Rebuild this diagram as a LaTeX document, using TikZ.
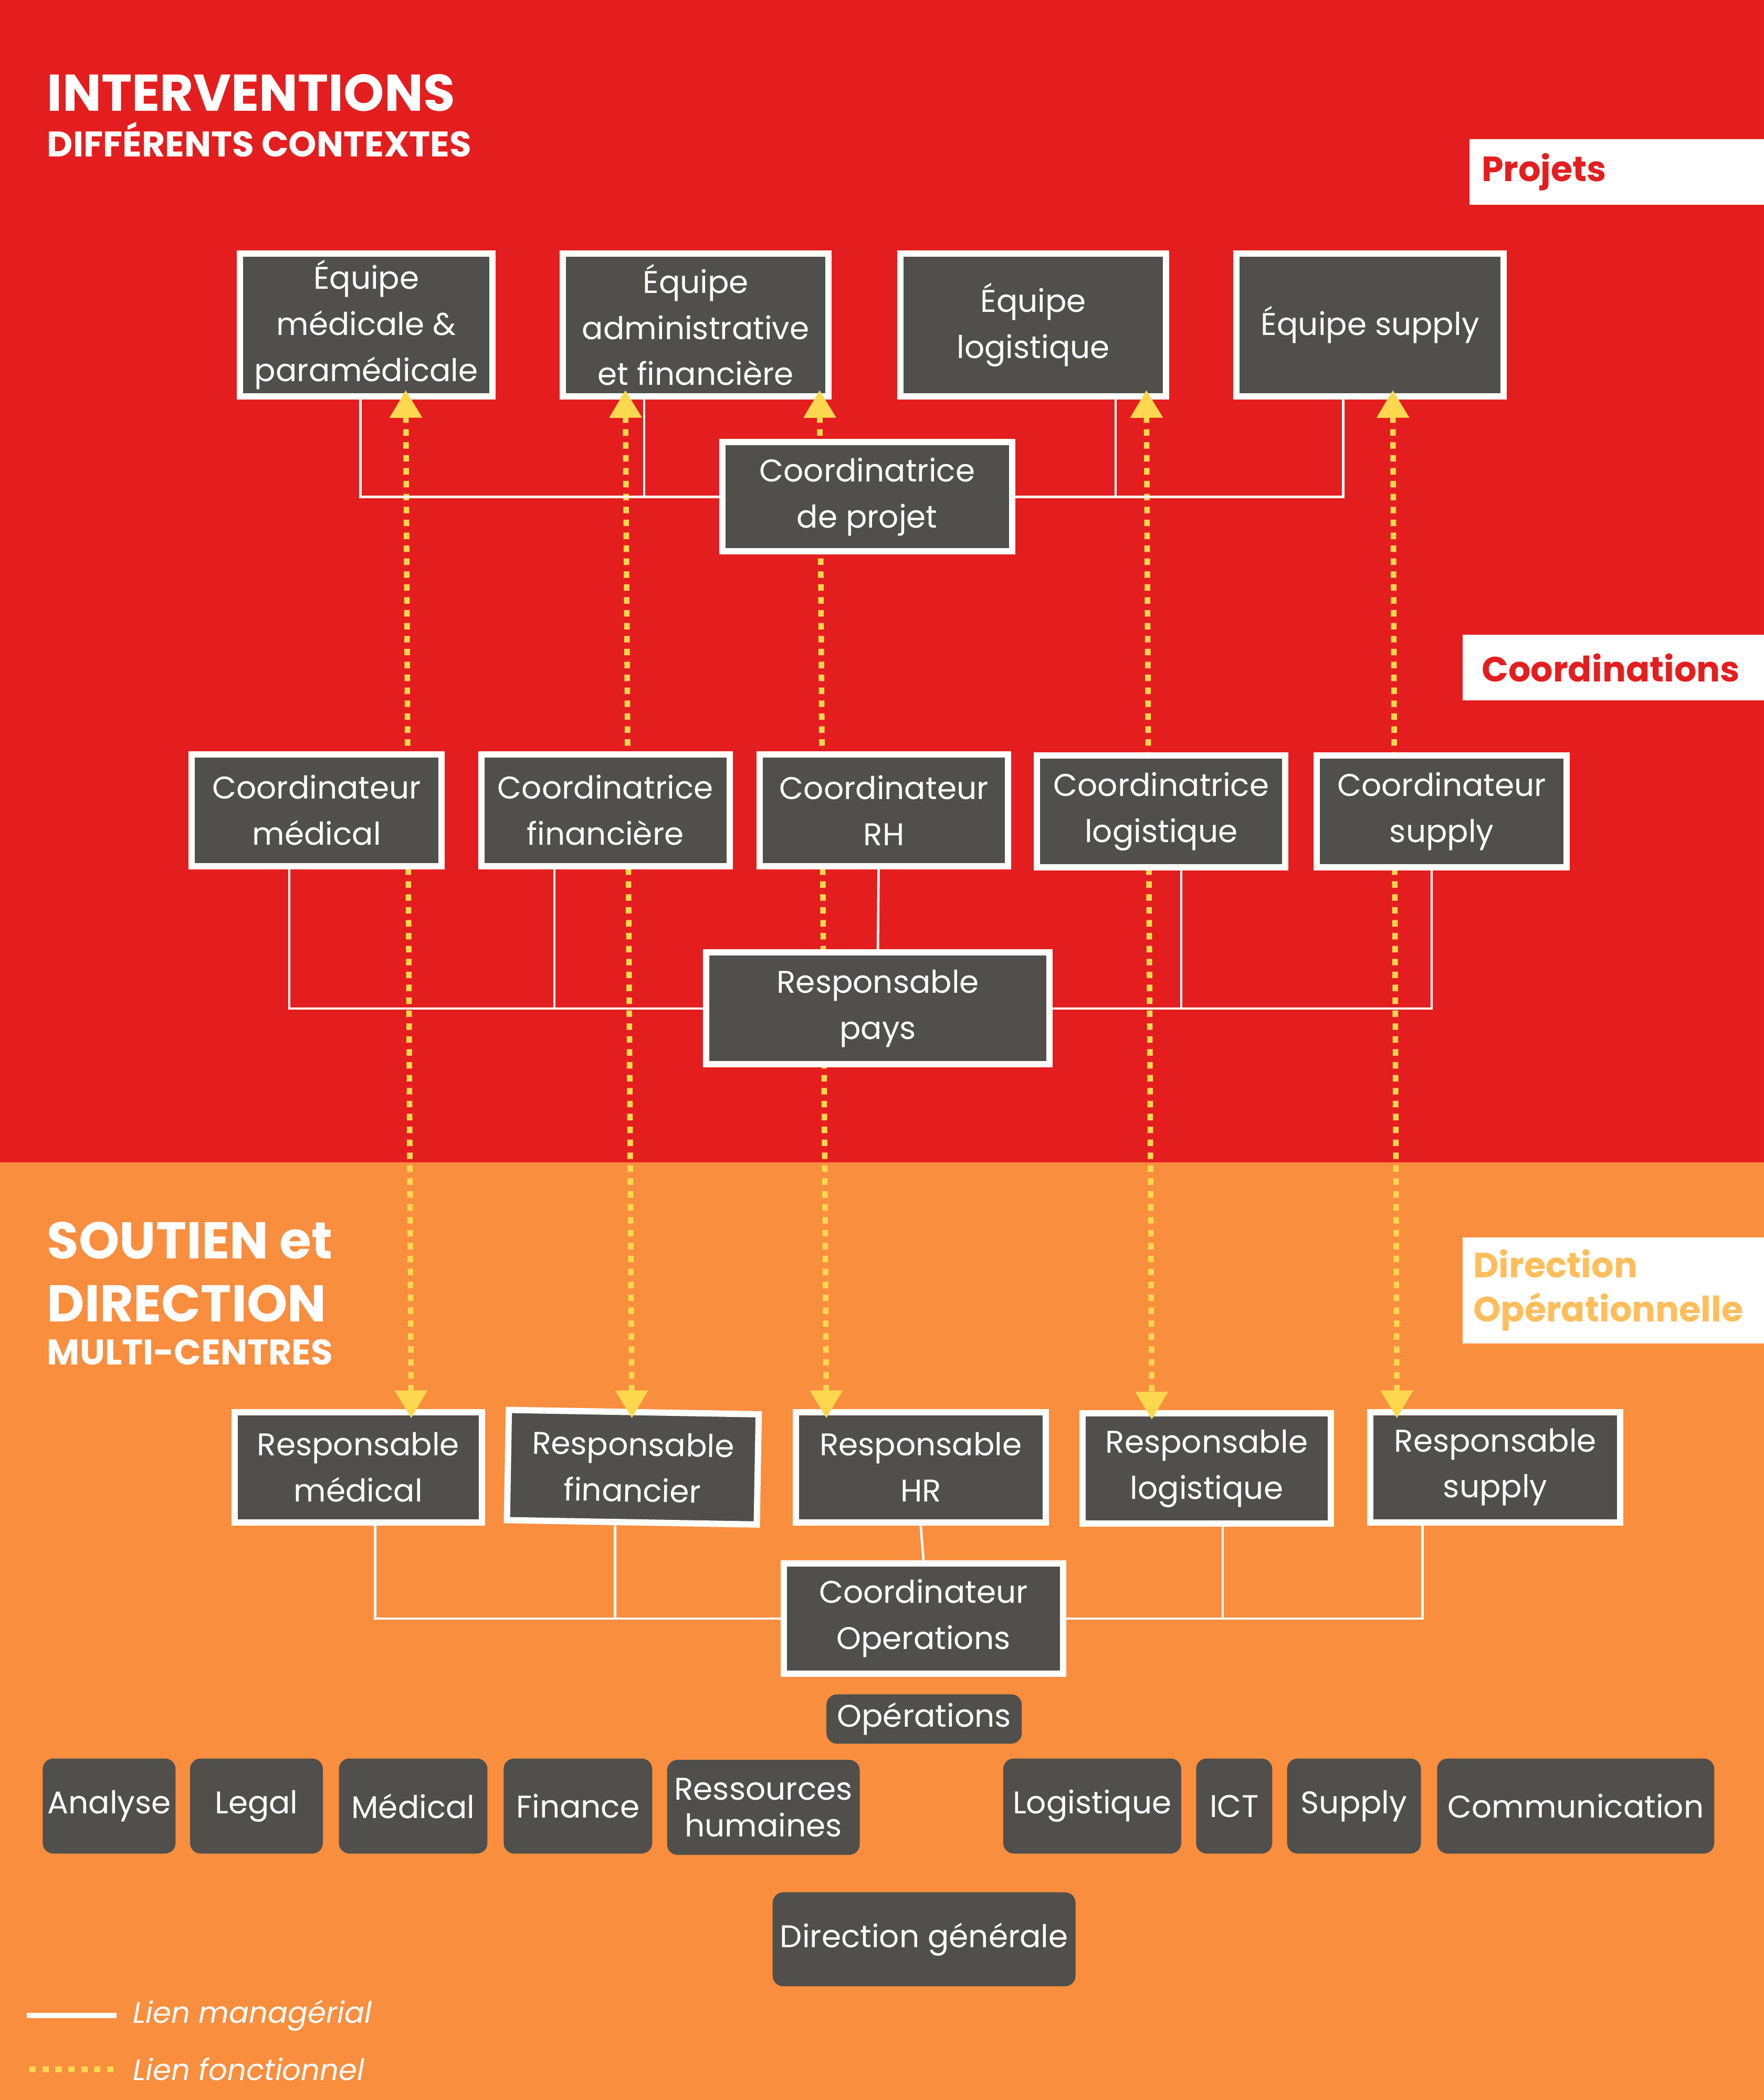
\documentclass[tikz,border=0pt]{standalone}
\usepackage{fontspec}
\setmainfont{Poppins}
\usepackage{tikz}
\usetikzlibrary{arrows.meta,positioning,calc}
\definecolor{redbg}{HTML}{E41E1F}
\definecolor{orangebg}{HTML}{F98E3F}
\definecolor{boxgray}{HTML}{504F4C}
\definecolor{linkyellow}{HTML}{FDD84E}
\definecolor{dirop}{HTML}{FFBE5C}
\tikzset{
  role/.style={draw=white, line width=3.4pt, fill=boxgray, text=white, align=center, inner sep=2pt,
    font=\fontsize{17}{25}\selectfont},
  unit/.style={fill=boxgray, rounded corners=0.2cm, text=white, align=center, inner sep=1pt,
    font=\fontsize{17}{20}\selectfont},
  level/.style={fill=white, anchor=west, align=left, text=redbg, font=\bfseries\fontsize{19}{24}\selectfont},
  title/.style={anchor=base west, inner sep=0pt, text=white, font=\bfseries\fontsize{28}{30}\selectfont},
  subtitle/.style={title, font=\bfseries\fontsize{19.3}{20}\selectfont},
  legend/.style={anchor=west, inner sep=0pt, text=white, font=\itshape\fontsize{16}{20}\selectfont},
  mgr/.style={draw=white, line width=1.3pt},
  funcline/.style={draw=linkyellow, line width=3pt, dash pattern=on 3.5pt off 3.5pt},
  func/.style={funcline, {Triangle[width=17pt,length=15pt]}-{Triangle[width=17pt,length=15pt]},
    shorten <=-5pt, shorten >=-5pt},
}

\begin{document}
\begin{tikzpicture}[x=0.02551cm, y=-0.02551cm]
  \useasboundingbox (0,0) rectangle (1317,1568);
  \fill[redbg] (0,0) rectangle (1317,868);
  \fill[orangebg] (0,868) rectangle (1317,1568);

  % headings
  \node[title] (interv) at (35,83) {INTERVENTIONS};
  \node[subtitle] (contextes) at (35,117) {DIFFÉRENTS CONTEXTES};
  \node[title] (soutien) at (35,940) {SOUTIEN et};
  \node[title] (direction) at (35,987) {DIRECTION};
  \node[subtitle] (multi) at (35,1019) {MULTI-CENTRES};

  \node[level, minimum height=1.25cm, text width=5.15cm, inner xsep=0.23cm] (projets) at (1097,128.5) {Projets};
  \node[level, minimum height=1.25cm, text width=5.02cm, inner xsep=0.36cm] (coordins) at (1092,498.5) {Coordinations};
  \node[level, minimum height=2.02cm, text width=5.34cm, inner xsep=0.2cm, text=dirop] (dirops) at (1092,963.5) {Direction\\Opérationnelle};

  % projets
  \node[role, minimum width=4.81cm, minimum height=2.72cm] (eqmed) at (273.5,242.5) {Équipe\\médicale \&\\paramédicale};
  \node[role, minimum width=5.06cm, minimum height=2.72cm] (eqadm) at (519.5,242.5) {Équipe\\administrative\\et financière};
  \node[role, minimum width=5.06cm, minimum height=2.72cm] (eqlog) at (771.5,242.5) {Équipe\\logistique};
  \node[role, minimum width=5.09cm, minimum height=2.72cm] (eqsup) at (1023,242.5) {Équipe supply};

  % direction operationnelle
  \node[role, minimum width=4.71cm, minimum height=2.10cm] (respmed) at (267.5,1095.5) {Responsable\\médical};
  \node[role, minimum width=4.76cm, minimum height=2.10cm, rotate=-1] (respfin) at (472.5,1095.5) {Responsable\\financier};
  \node[role, minimum width=4.76cm, minimum height=2.10cm] (resphr) at (687.5,1095.5) {Responsable\\HR};
  \node[role, minimum width=4.73cm, minimum height=2.10cm] (resplog) at (901,1096.5) {Responsable\\logistique};
  \node[role, minimum width=4.76cm, minimum height=2.10cm] (respsup) at (1116.5,1095.5) {Responsable\\supply};

  % liens fonctionnels
  \draw[func] ($(eqmed.south)+(29.5,0)$) -- ($(respmed.north)+(39.5,0)$);
  \draw[func] ($(eqadm.south)+(-52.5,0)$) -- ($(respfin.north)+(-1.5,0)$);
  \draw[func] ($(eqadm.south)+(92.5,0)$) -- ($(resphr.north)+(-70.5,0)$);
  \draw[func] ($(eqlog.south)+(84.5,0)$) -- ($(resplog.north)+(-41,0)$);
  \draw[func] ($(eqsup.south)+(17,0)$) -- ($(respsup.north)+(-73.5,0)$);

  % coordinations
  \node[role, minimum width=5.52cm, minimum height=2.08cm] (coordprojet) at (647.5,371) {Coordinatrice\\de projet};
  \node[role, minimum width=4.76cm, minimum height=2.13cm] (coordmed) at (236.5,605) {Coordinateur\\médical};
  \node[role, minimum width=4.73cm, minimum height=2.13cm] (coordfin) at (452,605) {Coordinatrice\\financière};
  \node[role, minimum width=4.73cm, minimum height=2.13cm] (coordrh) at (660,605) {Coordinateur\\RH};
  \node[role, minimum width=4.73cm, minimum height=2.13cm] (coordlog) at (867,606) {Coordinatrice\\logistique};
  \node[role, minimum width=4.76cm, minimum height=2.13cm] (coordsup) at (1076.5,606) {Coordinateur\\supply};
  \node[role, minimum width=6.54cm, minimum height=2.13cm] (resppays) at (655.5,753) {Responsable\\pays};
  \node[role, minimum width=5.32cm, minimum height=2.10cm] (coordops) at (689.5,1208.5) {Coordinateur\\Operations};

  % liens manageriaux
  \draw[mgr] ($(eqmed.south)+(-4.5,0)$) |- (coordprojet.west);
  \draw[mgr] ($(eqadm.south)+(-38.5,0)$) |- (coordprojet.west);
  \draw[mgr] ($(eqlog.south)+(61.5,0)$) |- (coordprojet.east);
  \draw[mgr] ($(eqsup.south)+(-20,0)$) |- (coordprojet.east);

  \draw[mgr] ($(coordmed.south)+(-20.5,0)$) |- (resppays.west);
  \draw[mgr] ($(coordfin.south)+(-38,0)$) |- (resppays.west);
  \draw[mgr] ($(coordrh.south)+(-4,0)$) -- (resppays.north);
  \draw[mgr] ($(coordlog.south)+(15,0)$) |- (resppays.east);
  \draw[mgr] ($(coordsup.south)+(-7.5,0)$) |- (resppays.east);

  \draw[mgr] ($(respmed.south)+(12.5,0)$) |- (coordops.west);
  \draw[mgr] ($(respfin.south)+(-12.5,0)$) |- (coordops.west);
  \draw[mgr] (resphr.south) -- (coordops.north);
  \draw[mgr] ($(resplog.south)+(12,0)$) |- (coordops.east);
  \draw[mgr] ($(respsup.south)+(-54.5,0)$) |- (coordops.east);

  % soutien
  \node[unit, minimum width=3.72cm, minimum height=0.94cm] (ops) at (690,1283.5) {Opérations};
  \node[unit, minimum width=2.53cm, minimum height=1.81cm] (analyse) at (81.5,1348.5) {Analyse};
  \node[unit, minimum width=2.53cm, minimum height=1.81cm] (legal) at (191.5,1348.5) {Legal};
  \node[unit, minimum width=2.83cm, minimum height=1.81cm] (medical) at (308.5,1348.5) {Médical};
  \node[unit, minimum width=2.83cm, minimum height=1.81cm] (finance) at (431.5,1348.5) {Finance};
  \node[unit, minimum width=3.67cm, minimum height=1.81cm] (rh) at (570,1349.5) {Ressources\\humaines};
  \node[unit, minimum width=3.39cm, minimum height=1.81cm] (logistique) at (815.5,1348.5) {Logistique};
  \node[unit, minimum width=1.45cm, minimum height=1.81cm] (ict) at (921.5,1348.5) {ICT};
  \node[unit, minimum width=2.55cm, minimum height=1.81cm] (supply) at (1011,1348.5) {Supply};
  \node[unit, minimum width=5.28cm, minimum height=1.81cm] (comm) at (1176.5,1348.5) {Communication};
  \node[unit, minimum width=5.77cm, minimum height=1.79cm] (dg) at (690,1448) {Direction générale};

  % legende
  \coordinate (mgrA) at (20,1505);
  \coordinate (mgrB) at (87,1505);
  \draw[mgr, line width=2.9pt] (mgrA) -- (mgrB);
  \node[legend] (mgrlabel) at (99,1505) {Lien managérial};
  \coordinate (funcA) at (22,1545);
  \coordinate (funcB) at (87,1545);
  \draw[funcline] (funcA) -- (funcB);
  \node[legend] (funclabel) at (99,1545) {Lien fonctionnel};
\end{tikzpicture}
\end{document}
